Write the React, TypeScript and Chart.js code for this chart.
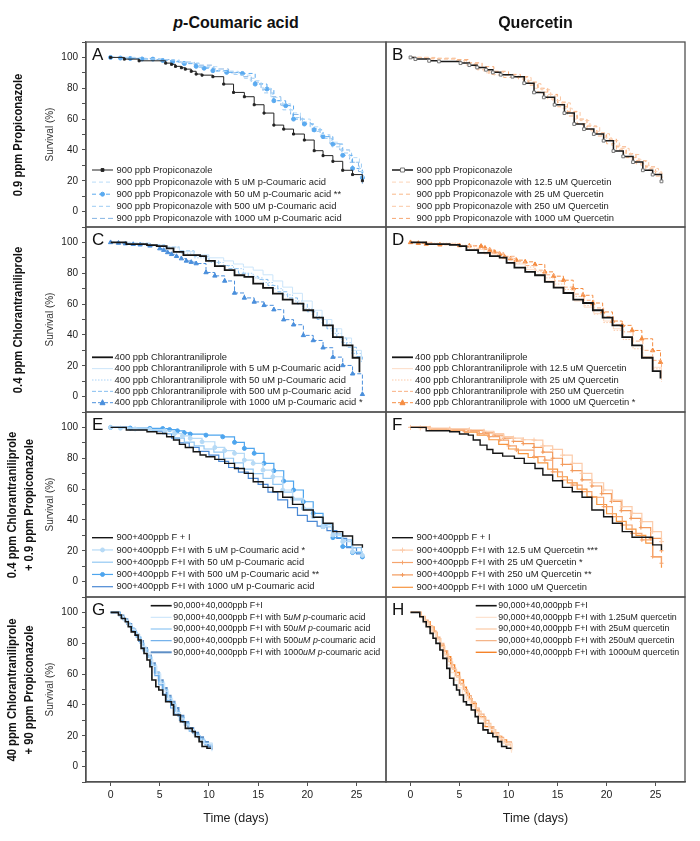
import React, { useEffect, useRef } from 'react';
import { Chart, registerables } from 'chart.js';
Chart.register(...registerables);

type P = [number, number];

// ---------- Axis ticks ----------
const X_TICKS = [0, 5, 10, 15, 20, 25];
const Y_TICKS = [0, 20, 40, 60, 80, 100];

// ---------- Panel A: 900 ppb Propiconazole + p-Coumaric acid ----------
const A_ctrl: P[] = [[0,100],[1.4,98.9],[2.9,97.8],[5.6,96.3],[6.2,95.5],[6.6,94.2],[7.2,93.3],[7.6,92.4],[8.2,91],[8.7,89.2],[9.3,88.5],[10.4,87.5],[11.5,82.7],[12.5,77.3],[13.6,74.5],[14.6,69.3],[15.6,63.9],[16.6,56.1],[17.6,53.5],[18.6,50.3],[19.7,46.4],[20.7,39.5],[21.6,36.3],[22.6,32.6],[23.6,26.8],[24.6,24],[25.6,20]];
const A_5uM: P[] = [[0,100],[3,99],[5,98.4],[7,96.5],[9,94],[11,91],[13,88.5],[14.2,85],[15.3,80],[16.3,74],[17.3,70],[18.3,64],[19.3,60],[20.3,55],[21.3,50],[22.3,45],[23.3,40],[24.3,35],[25.3,26],[25.7,22]];
const A_50uM: P[] = [[0,100],[1,99.6],[2,99.3],[3.2,99],[4.3,98.9],[5.3,98],[6.3,97.2],[7.5,96],[8.7,94.2],[9.5,93],[10.4,91.4],[11.8,90.3],[13.4,89.6],[14.7,82.7],[15.9,79.5],[16.6,71.9],[17.8,68.7],[18.6,60],[19.7,56.8],[20.7,53],[21.6,48.6],[22.6,43.8],[23.6,36.5],[24.6,28],[25.6,22]];
const A_500uM: P[] = [[0,100],[2.5,99],[5,97.8],[7,96],[9,93.5],[10.5,91],[12.5,89],[13.6,86.5],[14.6,83],[15.5,77],[16.5,72],[17.5,66],[18.5,61],[19.5,57],[20.5,52],[21.5,47.5],[22.5,42],[23.5,38],[24.5,32],[25.5,25],[25.7,21]];
const A_1000uM: P[] = [[0,100],[2,99.4],[4.5,98.6],[6.5,97],[8.5,95],[10.5,92.5],[12,90],[13.3,87.5],[14.3,84],[15.3,79],[16.3,74.5],[17.3,69],[18.3,63],[19.3,58],[20.3,54],[21.3,49],[22.3,44],[23.3,40],[24.3,32],[25.2,26],[25.6,18]];
const A_labels = [
  '900 ppb Propiconazole',
  '900 ppb Propiconazole with 5 uM p-Coumaric acid',
  '900 ppb Propiconazole with 50 uM p-Coumaric acid **',
  '900 ppb Propiconazole with 500 uM p-Coumaric acid',
  '900 ppb Propiconazole with 1000 uM p-Coumaric acid',
];

// ---------- Panel B: 900 ppb Propiconazole + Quercetin ----------
const B_ctrl: P[] = [[0,100],[0.5,98.9],[1.9,97.8],[2.9,97.4],[5.1,96.3],[6,95],[6.8,93.5],[7.7,92],[8.4,90.3],[9.2,88.8],[10.4,87.5],[11.6,83.3],[12.6,77.3],[13.6,74.1],[14.7,69.3],[15.7,63.9],[16.7,56.8],[17.7,53.5],[18.7,50.3],[19.7,46],[20.7,39.3],[21.7,35.8],[22.7,32.1],[23.7,26.8],[24.7,24],[25.6,19.6]];
const B_12uM: P[] = [[0,100],[2,99],[4.6,97.8],[5.5,95],[6.5,92.5],[7.5,90],[8.5,88.5],[10,87.5],[11.5,85],[12.5,80],[13.5,76],[14.5,72],[15.5,67],[16.5,60],[17.5,56],[18.5,52],[19.5,48],[20.5,43],[21.5,38],[22.5,34],[23.5,30],[24.5,26],[25.6,21]];
const B_25uM: P[] = [[0,100],[2,99.5],[4.6,98.5],[5.7,95.5],[6.8,92],[8,89],[9.5,87],[11,86],[12,82],[13,77.5],[14,73],[15,68],[16,62],[17,57],[18,53],[19,49],[20,44],[21,40],[22,35],[23,31],[24,27],[25,23],[25.6,20]];
const B_250uM: P[] = [[0,100],[2.5,99],[4.6,98],[6,96],[7,93],[8,90.5],[9.5,88.5],[11,87],[12.3,83],[13.3,79],[14.3,75],[15.3,70.5],[16.3,64.5],[17.3,59],[18.3,55],[19.3,50.5],[20.3,46],[21.3,41],[22.3,37],[23.3,33],[24.3,28],[25.3,25],[25.7,22]];
const B_1000uM: P[] = [[0,100],[1.5,99.2],[4.6,98.6],[6,96.5],[7.3,94],[8.5,91],[10,89],[11.2,87.5],[12,84],[13,80],[14,76],[15,71],[16,65],[17,60],[18,55.5],[19,51],[20,47],[21,42],[22,37.5],[23,33],[24,29],[25,24],[25.6,20]];
const B_labels = [
  '900 ppb Propiconazole',
  '900 ppb Propiconazole with 12.5 uM Quercetin',
  '900 ppb Propiconazole with 25 uM Quercetin',
  '900 ppb Propiconazole with 250 uM Quercetin',
  '900 ppb Propiconazole with 1000 uM Quercetin',
];

// ---------- Panel C: 400 ppb Chlorantraniliprole + p-Coumaric acid ----------
const C_ctrl: P[] = [[0,100],[1.6,98.9],[3.7,98.2],[4.7,97.6],[5.7,96.1],[6.4,93.9],[7.4,91.7],[9.1,91.1],[9.7,88],[10.6,84.6],[11.6,82],[12.6,78.7],[13.6,77.6],[14.5,73.3],[15.5,70.5],[16.5,66.8],[17.5,62.9],[18.5,60.3],[19.6,56],[20.6,51.2],[21.6,46.2],[22.6,38.6],[23.6,33.2],[24.6,25.2],[25.3,15.8]];
const C_5uM: P[] = [[0,100],[2,99],[4,98.3],[5.5,97],[7,94],[8.5,92],[10,90],[11.5,88],[12.5,86],[13.5,84],[14.5,82],[15.5,79],[16.5,75],[17.5,71],[18.5,67],[19.5,62],[20.5,56],[21.5,50],[22.5,44],[23.5,38],[24.5,30],[25.5,24]];
const C_50uM: P[] = [[0,100],[2,99.2],[4,98],[5.5,96.5],[7,93],[8.5,90],[10,87],[11.5,85],[12.5,83],[13.5,80],[14.5,77],[15.5,74],[16.5,70],[17.5,66],[18.5,62],[19.5,57],[20.5,52],[21.5,47],[22.5,41],[23.5,35],[24.5,28],[25.5,22]];
const C_500uM: P[] = [[0,100],[2,99.5],[4,98.5],[5.5,97],[7,94.5],[8.5,91],[10,88],[11,85],[12,83],[13,80],[14,78],[15,76],[16,72],[17,68],[18,64],[19,60],[20,55],[21,50],[22,44],[23,38],[24,32],[25,26],[25.6,24]];
const C_1000uM: P[] = [[0,100],[0.8,99.6],[1.5,99.2],[2.3,98.8],[3,98.5],[4,97.8],[5,96],[5.4,95],[5.8,93.5],[6.2,92.3],[6.7,91],[7.2,89.5],[7.7,88],[8.2,87.2],[8.7,86.3],[9.7,80.5],[10.6,78.3],[11.6,75],[12.6,67.2],[13.6,64],[14.6,61.4],[15.6,59.2],[16.6,56.4],[17.6,49.9],[18.6,46.6],[19.6,39.7],[20.6,36.4],[21.6,31.7],[22.6,25.6],[23.6,20.2],[24.6,14.8],[25.6,1.5]];
const C_labels = [
  '400 ppb Chlorantraniliprole',
  '400 ppb Chlorantraniliprole with 5 uM p-Coumaric acid',
  '400 ppb Chlorantraniliprole with 50 uM p-Coumaric acid',
  '400 ppb Chlorantraniliprole with 500 uM p-Coumaric acid',
  '400 ppb Chlorantraniliprole with 1000 uM p-Coumaric acid *',
];

// ---------- Panel D: 400 ppb Chlorantraniliprole + Quercetin ----------
const D_ctrl: P[] = [[0,100],[1.6,98.9],[4,98.4],[5,97.6],[5.7,95],[6.9,93.2],[8.1,91.1],[9.1,90.2],[9.8,86.7],[10.6,83.7],[11.7,80.9],[12.7,78.7],[13.7,74.4],[14.6,70.7],[15.6,67.2],[16.6,62.9],[17.6,60.7],[18.6,56],[19.6,51.2],[20.6,46.2],[21.6,38.6],[22.6,33.2],[23.6,25.2],[24.7,16.5],[25.5,11.7]];
const D_12uM: P[] = [[0,100],[2,99.2],[4.5,98],[6,95.5],[7.5,92.5],[9,90],[10.5,86],[11.7,82.5],[12.7,79],[13.7,75],[14.7,71],[15.7,67],[16.7,62],[17.7,58],[18.7,54],[19.7,49],[20.7,44],[21.7,38.5],[22.7,33],[23.7,26],[24.7,19],[25.6,12]];
const D_25uM: P[] = [[0,100],[2,99.5],[4.8,98.2],[6.5,96],[8,93],[9.5,89.5],[10.7,86.5],[11.7,84],[12.7,81],[13.7,77],[14.7,73],[15.7,69.5],[16.7,65],[17.7,59],[18.7,53.5],[19.7,48],[20.7,43],[21.7,37],[22.7,31],[23.7,25],[24.7,18],[25.6,9.5]];
const D_250uM: P[] = [[0,100],[2.2,99],[5,97.8],[6.8,96],[8.2,93.5],[9.5,91],[10.7,87.5],[11.7,85],[12.7,82],[13.7,79],[14.7,75],[15.7,71],[16.7,66.5],[17.7,62.5],[18.7,57.5],[19.7,52],[20.7,46.5],[21.7,42],[22.7,36],[23.7,30],[24.7,23.5],[25.6,14]];
const D_1000uM: P[] = [[0,100],[0.8,99.5],[1.6,99],[3,98.5],[5,98],[6,97.8],[7.2,97.6],[7.6,96.4],[8.1,95],[8.6,93.6],[9.1,92.4],[9.6,90.6],[10.2,89.5],[10.8,88.5],[11.7,87.4],[12.7,85.7],[13.7,80.9],[14.6,78.1],[15.6,75.5],[16.6,70.1],[17.6,65.7],[18.6,60.7],[19.6,54.9],[20.6,49],[21.6,46.2],[22.6,42.9],[23.6,37.5],[24.7,29.9],[25.5,22.3]];
const D_labels = [
  '400 ppb Chlorantraniliprole',
  '400 ppb Chlorantraniliprole with 12.5 uM Quercetin',
  '400 ppb Chlorantraniliprole with 25 uM Quercetin',
  '400 ppb Chlorantraniliprole with 250 uM Quercetin',
  '400 ppb Chlorantraniliprole with 1000 uM Quercetin *',
];

// ---------- Panel E: 900+400 ppb F + I + p-Coumaric acid ----------
const E_ctrl: P[] = [[0,100],[1.6,98.3],[3.7,97.2],[4.7,96.1],[5.7,93.9],[6.4,91.8],[7,89],[7.6,87],[8.4,84.2],[9.1,82.1],[9.7,81],[10.6,79.3],[11.6,76.7],[12.6,73.4],[13.6,70.2],[14.5,64.8],[15.5,61.1],[16.5,58.3],[17.5,54.7],[18.5,50.1],[19.6,46.4],[20.6,41.7],[21.6,37.8],[22.6,32.4],[23.6,29.6],[24.6,23.8],[25.6,22]];
const E_5uM: P[] = [[0,100],[1,99.5],[2.5,99],[4,98.6],[5.5,97.8],[6.5,96],[7.3,94.5],[8.1,92.9],[9.3,90.7],[10.6,87],[11.6,85],[12.6,83.2],[13.6,78.8],[14.5,76.7],[15.5,72.3],[16.5,68],[17.5,59.4],[18.5,54],[19.6,47.5],[20.6,42.1],[21.6,35.6],[22.6,30.2],[23.6,25.9],[24.6,19.4],[25.6,17]];
const E_50uM: P[] = [[0,100],[2,99],[4,98],[5.5,96],[6.5,93],[7.5,90.5],[8.5,88],[9.5,86],[10.5,84],[11.5,80],[12.5,77],[13.5,73],[14.5,70],[15.5,67],[16.5,63],[17.5,58],[18.5,53],[19.5,47],[20.5,42],[21.5,37],[22.5,31],[23.5,27],[24.5,22],[25.5,18]];
const E_500uM: P[] = [[0,100],[2,99.6],[4,99.4],[5.3,99.3],[6,98.6],[6.8,97.8],[7.5,96.5],[8.1,95.7],[9.7,95],[11.4,93.9],[12.6,90.3],[13.6,86.4],[14.6,83.2],[15.6,76.7],[16.6,71.9],[17.6,65.2],[18.6,59.4],[19.6,51.8],[20.6,44.3],[21.6,35.6],[22.6,28.5],[23.6,22.7],[24.6,18.8],[25.6,16]];
const E_1000uM: P[] = [[0,100],[2,98.5],[4,97.5],[5.3,96],[6.2,93],[7,90],[8,87],[9,84.5],[10,82],[11,78],[12,74],[13,71],[14,67],[15,63],[16,58],[17,53],[18,48],[19,43],[20,39],[21,36],[22,33],[23,28],[24,22],[25,18],[25.6,15]];
const E_labels = [
  '900+400ppb F + I',
  '900+400ppb F+I with 5 uM p-Coumaric acid *',
  '900+400ppb F+I with 50 uM p-Coumaric acid',
  '900+400ppb F+I with 500 uM p-Coumaric acid **',
  '900+400ppb F+I with 1000 uM p-Coumaric acid',
];

// ---------- Panel F: 900+400 ppb F + I + Quercetin ----------
const F_ctrl: P[] = [[0,100],[1.6,97.8],[4,97.2],[5,95.7],[5.9,95],[6.4,91.8],[7.1,88.5],[7.8,85.7],[8.4,83.2],[9.4,81.4],[10.6,79.9],[11.6,76.7],[12.7,73.4],[13.5,69.1],[14.5,65.4],[15.5,61.1],[16.5,58.3],[17.5,54.7],[18.5,46.4],[19.7,42.1],[20.6,37.8],[21.6,32.4],[22.6,28.8],[24.7,23.8],[25.6,20.5]];
const F_12uM: P[] = [[0,100],[1,99.7],[2,99.5],[4,99],[6,98.5],[7.5,97.5],[8.5,96],[9.5,94],[10.5,93],[11.5,92],[12.6,91.8],[13.5,88],[14.5,85.7],[15.5,82],[16.5,76.7],[17.5,70.2],[18.5,64.1],[19.7,59.4],[20.6,52.9],[21.6,48.6],[22.6,44.3],[23.6,38.9],[24.7,32.4],[25.6,25.9]];
const F_25uM: P[] = [[0,100],[2,99],[4,98.5],[5.5,97.5],[7,96],[8,94],[9.1,91.8],[10,88],[10.8,85.3],[12.6,81],[13.7,78.8],[14.5,71.2],[15.5,65.9],[16.5,62.6],[17.5,58.3],[18.5,54.7],[19.7,48.6],[20.6,42.1],[21.6,36.7],[22.6,31.3],[23.6,27],[24.7,16.2],[25.6,11.9]];
const F_250uM: P[] = [[0,100],[2,99.3],[4,98.8],[6,98],[7.5,96.5],[8.5,95],[9.5,93],[10.5,91],[11.5,89.5],[12.6,87],[13.5,84],[14.5,80],[15.5,76],[16.5,72],[17.5,66],[18.5,62],[19.5,57],[20.5,52],[21.5,46],[22.5,41],[23.5,35],[24.5,28],[25.6,20]];
const F_1000uM: P[] = [[0,100],[2,99],[4,98.2],[5.5,97],[6.8,95],[8,92],[9,89],[10,86],[11,83],[12,80.5],[13,77],[14,73],[15,68],[16,64],[17,60],[18,55],[19,50],[20,44],[21,39],[22,34],[23,30],[24,25],[24.7,16],[25.6,9]];
const F_labels = [
  '900+400ppb F + I',
  '900+400ppb F+I with 12.5 uM Quercetin ***',
  '900+400ppb F+I with 25 uM Quercetin *',
  '900+400ppb F+I with 250 uM Quercetin **',
  '900+400ppb F+I with 1000 uM Quercetin',
];

// ---------- Panel G: 90,000+40,000 ppb F + I + p-coumaric acid ----------
const G_ctrl: P[] = [[0,100],[0.6,100],[0.8,98.3],[1.1,96.1],[1.5,93.9],[1.8,90.7],[2.1,87.4],[2.5,85.3],[2.8,82.1],[3.1,76.7],[3.4,73.4],[3.7,69.1],[4,64.8],[4.2,56.2],[4.6,51.8],[4.9,49.7],[5.3,46.4],[5.6,42.1],[6.2,40],[6.4,33.5],[7.1,29.1],[7.6,24.8],[8.3,22.7],[8.6,19.4],[9,16.2],[9.3,13],[9.8,11.9],[10.2,11.9]];
const G_5uM: P[] = [[0,100],[0.6,100],[0.9,97.5],[1.3,95],[1.7,92],[2.1,89],[2.5,86],[2.9,82],[3.2,78],[3.6,74],[4,69],[4.3,65],[4.7,60],[5.1,54],[5.5,49],[5.9,44],[6.3,40],[6.7,35],[7.1,31],[7.5,27],[8,24],[8.5,20],[9,17],[9.5,15],[10.3,10]];
const G_50uM: P[] = [[0,100],[0.6,100],[0.9,98],[1.2,96],[1.6,93],[2,90],[2.4,87],[2.7,84],[3.1,80],[3.4,76],[3.8,71],[4.2,66],[4.6,61],[5,55],[5.4,50],[5.8,45],[6.2,41],[6.6,36],[7,32],[7.5,28],[8,24],[8.5,21],[9,18],[9.5,15],[10.3,12]];
const G_500uM: P[] = [[0,100],[0.7,100],[1,97],[1.4,94.5],[1.8,91],[2.2,88],[2.6,84],[3,80],[3.3,75],[3.7,71],[4.1,65],[4.5,59],[4.9,53],[5.3,47],[5.7,43],[6.1,38],[6.5,34],[7,30],[7.5,27],[8,23],[8.6,20],[9.1,17],[9.6,14],[10.3,13]];
const G_1000uM: P[] = [[0,100],[0.6,100],[0.9,98],[1.3,95.5],[1.7,92.5],[2.1,89],[2.5,85.5],[2.9,81.5],[3.3,77],[3.7,72],[4.1,67],[4.5,61],[4.9,56],[5.3,51],[5.7,46],[6.1,42],[6.5,38],[6.9,33],[7.4,29],[7.9,25],[8.4,22],[8.9,19],[9.4,16],[9.9,13],[10.3,11]];
// "_" toggles italic in legend text
const G_labels = [
  '90,000+40,000ppb F+I',
  '90,000+40,000ppb F+I with 5_uM p_-coumaric acid',
  '90,000+40,000ppb F+I with 50_uM p_-coumaric acid',
  '90,000+40,000ppb F+I with 500_uM p_-coumaric acid',
  '90,000+40,000ppb F+I with 1000_uM p_-coumaric acid',
];

// ---------- Panel H: 90,000+40,000 ppb F + I + quercetin ----------
const H_ctrl: P[] = [[0,100],[0.7,100],[0.95,97.2],[1.3,93.9],[1.6,90.7],[2,86.4],[2.3,83.2],[2.6,79.9],[3,75.6],[3.3,70.2],[3.7,63.7],[4,57.3],[4.4,52.9],[4.7,49.7],[5,46.4],[5.4,42.1],[5.7,40],[6.2,36.7],[6.6,32.4],[6.9,28.1],[7.4,23.8],[7.9,21.6],[8.4,19.4],[8.9,16.2],[9.3,13],[9.8,11.9],[10.3,11.9]];
const H_1uM: P[] = [[0,100],[0.7,100],[1,97],[1.4,93],[1.8,90],[2.2,86.5],[2.6,82],[3,77],[3.3,72],[3.7,66],[4.1,61],[4.5,56],[4.9,51],[5.3,47],[5.7,43],[6.1,39],[6.5,35],[7,31],[7.5,27],[8,24],[8.5,21],[9,18],[9.5,15],[10.3,9]];
const H_25uM: P[] = [[0,100],[0.7,100],[1.1,97.5],[1.5,94],[1.9,91],[2.3,87],[2.7,83],[3.1,78],[3.5,73],[3.9,68],[4.3,63],[4.7,58],[5.1,53],[5.5,49],[5.9,44],[6.3,40],[6.7,36],[7.2,32],[7.7,28],[8.2,24],[8.7,20],[9.2,17],[9.7,14],[10.3,10]];
const H_250uM: P[] = [[0,100],[0.7,100],[1,97.5],[1.4,95],[1.8,91.5],[2.2,88],[2.6,84],[3,80],[3.4,75],[3.8,70],[4.2,64],[4.6,59],[5,54],[5.4,50],[5.8,46],[6.2,42],[6.6,38],[7,34],[7.5,30],[8,26],[8.5,22],[9,19],[9.5,16],[10.3,12]];
const H_1000uM: P[] = [[0,100],[0.7,100],[1.1,97],[1.5,94],[2,90.5],[2.4,87],[2.7,83],[3,78.8],[3.4,75],[3.7,71.2],[4.1,66],[4.5,61],[5,56.2],[5.4,51.5],[5.7,47.5],[6,44],[6.3,41],[6.7,36.5],[7,32.4],[7.6,25.9],[8.3,21.6],[8.8,19.5],[9.3,17.3],[9.8,15],[10.3,10.8]];
const H_labels = [
  '90,000+40,000ppb F+I',
  '90,000+40,000ppb F+I with 1.25uM quercetin',
  '90,000+40,000ppb F+I with 25uM quercetin',
  '90,000+40,000ppb F+I with 250uM quercetin',
  '90,000+40,000ppb F+I with 1000uM quercetin',
];

// ---------- Text ----------
const COL_TITLES = ['Coumaric acid', 'Quercetin'];
const ROW_TITLES = [
  ['0.9 ppm Propiconazole'],
  ['0.4 ppm Chlorantraniliprole'],
  ['0.4 ppm Chlorantraniliprole', '+ 0.9 ppm Propiconazole'],
  ['40 ppm Chlorantraniliprole', '+ 90 ppm Propiconazole'],
];
const Y_TITLE = 'Survival (%)';
const X_TITLE = 'Time (days)';

// ---------- Layout / style ----------
const FONT = '"Liberation Sans", Arial, Helvetica, sans-serif';
const COL_L = [86, 386];
const COL_R = [386, 685];
const ROW_T = [42, 227, 412, 597];
const ROW_B = [227, 412, 597, 782];

type Sty = { color: string; width: number; dash?: number[]; point?: string; pr?: number; pfill?: string; pborder?: string };
type Spec = {
  letter: string; row: number; col: number; series: P[][]; labels: string[]; styles: Sty[];
  leg: { x0: number; x1: number; tx: number; y: number; dy: number; fs: number };
};

const BL = '#151515';
const SPECS: Spec[] = [
  { letter: 'A', row: 0, col: 0, series: [A_ctrl, A_5uM, A_50uM, A_500uM, A_1000uM], labels: A_labels,
    styles: [
      { color: '#222', width: 1, point: 'rect', pr: 1.4, pfill: '#222' },
      { color: '#b9dcf8', width: 1, dash: [4, 3] },
      { color: '#5aaaf0', width: 1, dash: [4, 3], point: 'circle', pr: 2, pfill: '#5aaaf0' },
      { color: '#9ccbf3', width: 1, dash: [4, 3] },
      { color: '#86b4e4', width: 1, dash: [5, 3] },
    ], leg: { x0: 6, x1: 27, tx: 30.5, y: 128, dy: 12.1, fs: 9.4 } },
  { letter: 'B', row: 0, col: 1, series: [B_ctrl, B_12uM, B_25uM, B_250uM, B_1000uM], labels: B_labels,
    styles: [
      { color: '#1a1a1a', width: 1.5, point: 'rect', pr: 2, pfill: '#fff', pborder: '#777' },
      { color: '#fcd4b8', width: 1, dash: [4, 3] },
      { color: '#f9b889', width: 1, dash: [4, 3] },
      { color: '#fac7a3', width: 1, dash: [4, 3] },
      { color: '#f6a672', width: 1, dash: [4, 3] },
    ], leg: { x0: 6, x1: 27, tx: 30.5, y: 128, dy: 12.1, fs: 9.4 } },
  { letter: 'C', row: 1, col: 0, series: [C_ctrl, C_5uM, C_50uM, C_500uM, C_1000uM], labels: C_labels,
    styles: [
      { color: BL, width: 1.8 },
      { color: '#cbe5fa', width: 1 },
      { color: '#a9d2f6', width: 1, dash: [1.5, 1.5] },
      { color: '#86bff0', width: 1, dash: [4, 2] },
      { color: '#4a8fdc', width: 1, dash: [4, 2], point: 'triangle', pr: 2.5, pfill: '#4a8fdc' },
    ], leg: { x0: 6, x1: 27, tx: 28.5, y: 130.3, dy: 11.35, fs: 9.4 } },
  { letter: 'D', row: 1, col: 1, series: [D_ctrl, D_12uM, D_25uM, D_250uM, D_1000uM], labels: D_labels,
    styles: [
      { color: BL, width: 1.8 },
      { color: '#fddcc6', width: 1 },
      { color: '#fcc9a8', width: 1, dash: [1.5, 1.5] },
      { color: '#f9b083', width: 1, dash: [4, 2] },
      { color: '#f58d42', width: 1, dash: [4, 2], point: 'triangle', pr: 2.5, pfill: '#f58d42' },
    ], leg: { x0: 6, x1: 27, tx: 29, y: 130.3, dy: 11.35, fs: 9.4 } },
  { letter: 'E', row: 2, col: 0, series: [E_ctrl, E_5uM, E_50uM, E_500uM, E_1000uM], labels: E_labels,
    styles: [
      { color: BL, width: 1.4 },
      { color: '#b6daf6', width: 1.2, point: 'circle', pr: 2, pfill: '#b6daf6' },
      { color: '#93c8f3', width: 1.2 },
      { color: '#4ea5ee', width: 1.2, point: 'circle', pr: 2, pfill: '#4ea5ee' },
      { color: '#4a88d4', width: 1.2 },
    ], leg: { x0: 6, x1: 27, tx: 30.5, y: 125.7, dy: 12.25, fs: 9.4 } },
  { letter: 'F', row: 2, col: 1, series: [F_ctrl, F_12uM, F_25uM, F_250uM, F_1000uM], labels: F_labels,
    styles: [
      { color: BL, width: 1.4 },
      { color: '#fcccab', width: 1.2, point: 'cross', pr: 2.5 },
      { color: '#f6a46d', width: 1.2, point: 'cross', pr: 2 },
      { color: '#f39a5c', width: 1.2, point: 'cross', pr: 2 },
      { color: '#f7953f', width: 1.2 },
    ], leg: { x0: 6, x1: 27, tx: 30.5, y: 125.7, dy: 12.4, fs: 9.4 } },
  { letter: 'G', row: 3, col: 0, series: [G_ctrl, G_5uM, G_50uM, G_500uM, G_1000uM], labels: G_labels,
    styles: [
      { color: BL, width: 1.6 },
      { color: '#cfe7fb', width: 1.2 },
      { color: '#8fc7f4', width: 1.2 },
      { color: '#6eaeea', width: 1.2 },
      { color: '#5e8fc6', width: 2 },
    ], leg: { x0: 64.7, x1: 85.7, tx: 87.3, y: 8.7, dy: 11.65, fs: 8.85 } },
  { letter: 'H', row: 3, col: 1, series: [H_ctrl, H_1uM, H_25uM, H_250uM, H_1000uM], labels: H_labels,
    styles: [
      { color: BL, width: 1.6 },
      { color: '#fde2cf', width: 1.2 },
      { color: '#fbcaa4', width: 1.2 },
      { color: '#f4b083', width: 1.2 },
      { color: '#f5832a', width: 1.4 },
    ], leg: { x0: 89.7, x1: 110.7, tx: 112.3, y: 8.7, dy: 11.65, fs: 8.85 } },
];

function drawMarker(ctx: CanvasRenderingContext2D, s: Sty, x: number, y: number) {
  if (!s.point) return;
  const r = s.pr || 2;
  ctx.save();
  ctx.setLineDash([]);
  ctx.lineWidth = 1;
  ctx.fillStyle = s.pfill || s.color;
  ctx.strokeStyle = s.pborder || s.color;
  ctx.beginPath();
  if (s.point === 'rect') { ctx.rect(x - r, y - r, 2 * r, 2 * r); ctx.fill(); ctx.stroke(); }
  else if (s.point === 'circle') { ctx.arc(x, y, r, 0, Math.PI * 2); ctx.fill(); ctx.stroke(); }
  else if (s.point === 'triangle') { ctx.moveTo(x, y - r * 1.2); ctx.lineTo(x + r, y + r * 0.8); ctx.lineTo(x - r, y + r * 0.8); ctx.closePath(); ctx.fill(); ctx.stroke(); }
  else if (s.point === 'cross') { ctx.moveTo(x - r, y); ctx.lineTo(x + r, y); ctx.moveTo(x, y - r); ctx.lineTo(x, y + r); ctx.stroke(); }
  ctx.restore();
}

const decoPlugin = {
  id: 'panelDeco',
  afterDraw(chart: any, _args: any, opts: any) {
    const spec: Spec = opts.spec;
    if (!spec) return;
    const { ctx, chartArea: a } = chart;
    ctx.save();
    // legend
    ctx.textBaseline = 'middle';
    spec.labels.forEach((lab, i) => {
      const s = spec.styles[i];
      const y = a.top + spec.leg.y + i * spec.leg.dy;
      ctx.save();
      ctx.strokeStyle = s.color;
      ctx.lineWidth = s.width;
      ctx.setLineDash(s.dash || []);
      ctx.beginPath();
      ctx.moveTo(a.left + spec.leg.x0, y);
      ctx.lineTo(a.left + spec.leg.x1, y);
      ctx.stroke();
      ctx.restore();
      drawMarker(ctx, s, a.left + (spec.leg.x0 + spec.leg.x1) / 2, y);
      let x = a.left + spec.leg.tx;
      const parts = lab.split('_');
      parts.forEach((p, k) => {
        ctx.font = (k % 2 === 1 ? 'italic ' : '') + spec.leg.fs + 'px ' + FONT;
        ctx.fillStyle = '#1e1e1e';
        ctx.fillText(p, x, y);
        x += ctx.measureText(p).width;
      });
    });
    // letter
    ctx.font = '17px ' + FONT;
    ctx.fillStyle = '#111';
    ctx.fillText(spec.letter, a.left + 6, a.top + 13.5);
    // frame
    ctx.strokeStyle = '#505050';
    ctx.lineWidth = 1.3;
    ctx.setLineDash([]);
    ctx.strokeRect(a.left, a.top, a.right - a.left, a.bottom - a.top);
    ctx.restore();
  },
};

function zeroPad(sc: any) {
  sc.paddingTop = 0;
  sc.paddingBottom = 0;
  sc.paddingLeft = 0;
  sc.paddingRight = 0;
}

function Panel({ spec }: { spec: Spec }) {
  const ref = useRef<HTMLCanvasElement>(null);
  const isLeft = spec.col === 0;
  const isBottom = spec.row === 3;
  const cLeft = isLeft ? 0 : COL_L[1] - 3;
  const cRight = COL_R[spec.col] + 3;
  const cTop = ROW_T[spec.row] - 3;
  const xAxisH = 44;
  const cBottom = isBottom ? ROW_B[spec.row] + xAxisH : ROW_B[spec.row] + 3;
  const w = cRight - cLeft;
  const h = cBottom - cTop;

  useEffect(() => {
    const datasets = spec.series.map((pts, i) => {
      const s = spec.styles[i];
      return {
        label: spec.labels[i].replace(/_/g, ''),
        data: pts.map(([x, y]) => ({ x, y })),
        borderColor: s.color,
        backgroundColor: s.color,
        borderWidth: s.width,
        borderDash: s.dash || [],
        stepped: true,
        fill: false,
        tension: 0,
        pointRadius: s.point ? (s.pr || 2) : 0,
        pointStyle: s.point === 'cross' ? 'cross' : s.point || 'circle',
        pointBackgroundColor: s.pfill || s.color,
        pointBorderColor: s.pborder || s.color,
        pointBorderWidth: 1,
      };
    });
    const chart = new Chart(ref.current as HTMLCanvasElement, {
      type: 'line',
      data: { datasets } as any,
      options: {
        animation: false,
        responsive: false,
        maintainAspectRatio: false,
        events: [],
        layout: { autoPadding: false, padding: { left: isLeft ? 0 : 3, right: 3, top: 3, bottom: isBottom ? 0 : 3 } },
        plugins: { legend: { display: false }, tooltip: { enabled: false }, panelDeco: { spec } } as any,
        scales: {
          x: {
            type: 'linear', min: -2.5, max: 28, display: isBottom,
            afterFit: (sc: any) => { zeroPad(sc); sc.height = isBottom ? xAxisH : 0; },
            afterBuildTicks: (sc: any) => { sc.ticks = X_TICKS.map((v) => ({ value: v })); },
            ticks: { font: { family: FONT, size: 10.5 }, color: '#222', padding: 3, maxRotation: 0 },
            grid: { drawOnChartArea: false, drawTicks: true, tickLength: 4, color: '#505050' },
            border: { display: true, color: '#505050', width: 1.3 },
            title: { display: true, text: X_TITLE, font: { family: FONT, size: 12.5 }, color: '#222', padding: { top: 4, bottom: 0 } },
          },
          y: {
            type: 'linear', min: -10, max: 110, display: isLeft,
            afterFit: (sc: any) => { zeroPad(sc); sc.width = isLeft ? 86 : 0; },
            afterBuildTicks: (sc: any) => {
              const t: any[] = [];
              for (let v = -10; v <= 110; v += 10) t.push({ value: v });
              sc.ticks = t;
            },
            ticks: {
              font: { family: FONT, size: 10 }, color: '#222', padding: 4, autoSkip: false,
              callback: (v: any) => (Y_TICKS.includes(Number(v)) ? String(v) : ''),
            },
            grid: { drawOnChartArea: false, drawTicks: true, tickLength: 4, color: '#505050' },
            border: { display: true, color: '#505050', width: 1.3 },
            title: { display: true, text: Y_TITLE, font: { family: FONT, size: 10 }, color: '#333', padding: { top: 44, bottom: 0 } },
          },
        },
      } as any,
      plugins: [decoPlugin],
    });
    return () => chart.destroy();
  }, []);

  return (
    <canvas
      ref={ref}
      width={w}
      height={h}
      style={{ position: 'absolute', left: cLeft, top: cTop, width: w, height: h }}
    />
  );
}

export default function App() {
  const rowCenters = ROW_T.map((t, i) => (t + ROW_B[i]) / 2);
  return (
    <div style={{ position: 'absolute', left: 0, top: 0, width: 700, height: 841, background: '#fff', fontFamily: FONT, overflow: 'hidden' }}>
      {SPECS.map((s) => <Panel key={s.letter} spec={s} />)}
      <div style={{ position: 'absolute', left: 236 - 150, top: 13, width: 300, textAlign: 'center', fontWeight: 'bold', fontSize: 16, lineHeight: '20px', color: '#111' }}>
        <span style={{ fontStyle: 'italic' }}>p</span>-{COL_TITLES[0]}
      </div>
      <div style={{ position: 'absolute', left: 535.5 - 150, top: 13, width: 300, textAlign: 'center', fontWeight: 'bold', fontSize: 16, lineHeight: '20px', color: '#111' }}>
        {COL_TITLES[1]}
      </div>
      {ROW_TITLES.map((lines, i) => (
        <div key={i} style={{
          position: 'absolute', left: lines.length === 1 ? 18 : 21, top: rowCenters[i],
          transform: 'translate(-50%, -50%) rotate(-90deg) scaleX(0.9)',
          whiteSpace: 'nowrap', textAlign: 'center', fontWeight: 'bold', fontSize: 12.5, lineHeight: '17px', color: '#111',
        }}>
          {lines.map((l, k) => <div key={k}>{l}</div>)}
        </div>
      ))}
    </div>
  );
}
